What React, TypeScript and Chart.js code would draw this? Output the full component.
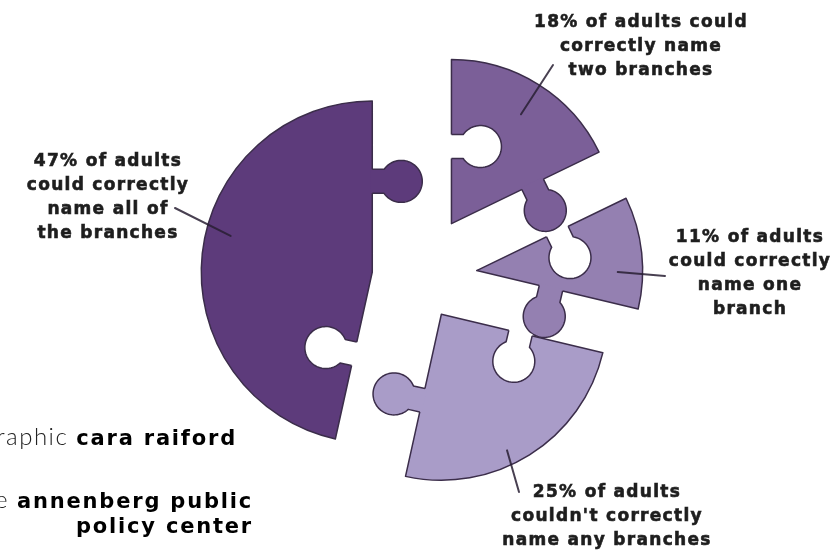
import { useEffect, useRef } from "react";
import { Chart, registerables } from "chart.js";

Chart.register(...registerables);

// ---- data ----
const categories = [
  "Could correctly name two branches",
  "Could correctly name one branch",
  "Couldn't correctly name any branches",
  "Could correctly name all of the branches",
];
const shares = [18, 11, 25, 47];
const labelLines = [
  ["18% of adults could", "correctly name", "two branches"],
  ["11% of adults", "could correctly", "name one", "branch"],
  ["25% of adults", "couldn't correctly", "name any branches"],
  ["47% of adults", "could correctly", "name all of", "the branches"],
];
const creditLight = ["graphic", "the", ""];
const creditBold = ["cara raiford", "annenberg public", "policy center"];

// ---- styles / layout ----
const colors = ["#7b5f98", "#9480b1", "#a99cc8", "#5d3b7b"];
const borderColor = "#3b2d4a";
const explode = [63, 59, 44, 46];
const radii = [164, 166, 166, 171];
const holeT = [0.47, 0.54, 0.49, 0.49];
const knobT = [0.55, 0.46, 0.53, 0.53];
const KR = 21;
const KD = 29;
const KW = 12;
const labelAnchor = [
  { x: 640, y: 23 },
  { x: 749, y: 238 },
  { x: 606, y: 493 },
  { x: 107, y: 162 },
];
const lineGap = 23.8;
const leaderStart = [
  { x: 553, y: 65 },
  { x: 665, y: 276 },
  { x: 519, y: 492 },
  { x: 175, y: 208 },
];
const leaderEnd = [
  [0.506, 0.79],
  [0.674, 0.85],
  [0.571, 0.91],
  [0.548, 0.855],
];
const creditRight = [237, 253, 253];
const creditBase = [445, 508, 533];

function tabPath(ctx: CanvasRenderingContext2D, arc: any, a: number, t: number, v0: number, closed: boolean) {
  const R = arc.outerRadius;
  const e = { x: Math.cos(a), y: Math.sin(a) };
  const n = { x: -Math.sin(a), y: Math.cos(a) };
  const u0 = t * R;
  const P = (u: number, v: number) => [arc.x + u * e.x + v * n.x, arc.y + u * e.y + v * n.y];
  const vN = KD - Math.sqrt(KR * KR - KW * KW);
  const phi0 = Math.atan2(vN - KD, -KW);
  const phi1 = Math.atan2(vN - KD, KW) - Math.PI * 2;
  ctx.beginPath();
  let p = P(u0 - KW, v0);
  ctx.moveTo(p[0], p[1]);
  p = P(u0 - KW, vN);
  ctx.lineTo(p[0], p[1]);
  const steps = 60;
  for (let k = 0; k <= steps; k++) {
    const f = phi0 + ((phi1 - phi0) * k) / steps;
    p = P(u0 + KR * Math.cos(f), KD + KR * Math.sin(f));
    ctx.lineTo(p[0], p[1]);
  }
  p = P(u0 + KW, vN);
  ctx.lineTo(p[0], p[1]);
  p = P(u0 + KW, v0);
  ctx.lineTo(p[0], p[1]);
  if (closed) ctx.closePath();
}

const puzzlePlugin = {
  id: "puzzle",
  afterDatasetsUpdate(chart: any) {
    const area = chart.chartArea;
    const cx = (area.left + area.right) / 2;
    const cy = (area.top + area.bottom) / 2;
    const meta = chart.getDatasetMeta(0);
    meta.data.forEach((arc: any, i: number) => {
      const mid = (arc.startAngle + arc.endAngle) / 2;
      arc.x = cx + explode[i] * Math.cos(mid);
      arc.y = cy + explode[i] * Math.sin(mid);
      arc.outerRadius = radii[i];
    });
  },
  afterDatasetsDraw(chart: any) {
    const ctx: CanvasRenderingContext2D = chart.ctx;
    const meta = chart.getDatasetMeta(0);
    ctx.save();
    ctx.lineJoin = "round";
    ctx.lineWidth = 1.5;
    ctx.strokeStyle = borderColor;
    meta.data.forEach((arc: any, i: number) => {
      tabPath(ctx, arc, arc.startAngle, holeT[i], -2, true);
      ctx.fillStyle = "#ffffff";
      ctx.fill();
      tabPath(ctx, arc, arc.startAngle, holeT[i], 0, false);
      ctx.stroke();
      tabPath(ctx, arc, arc.endAngle, knobT[i], -2, true);
      ctx.fillStyle = colors[i];
      ctx.fill();
      tabPath(ctx, arc, arc.endAngle, knobT[i], 0, false);
      ctx.stroke();
    });
    ctx.lineWidth = 2;
    ctx.lineCap = "round";
    meta.data.forEach((arc: any, i: number) => {
      const th = arc.startAngle + leaderEnd[i][0] * (arc.endAngle - arc.startAngle);
      const r = leaderEnd[i][1] * arc.outerRadius;
      ctx.strokeStyle = "rgba(40,30,50,0.85)";
      ctx.beginPath();
      ctx.moveTo(leaderStart[i].x, leaderStart[i].y);
      ctx.lineTo(arc.x + r * Math.cos(th), arc.y + r * Math.sin(th));
      ctx.stroke();
    });
    ctx.restore();
  },
  afterDraw(chart: any) {
    const ctx: any = chart.ctx;
    ctx.save();
    ctx.fillStyle = "#1e1e1e";
    ctx.strokeStyle = "#1e1e1e";
    ctx.lineWidth = 0.6;
    ctx.textAlign = "center";
    ctx.textBaseline = "middle";
    ctx.font = "bold 17px 'DejaVu Sans'";
    ctx.letterSpacing = "1.3px";
    labelLines.forEach((lines, i) => {
      lines.forEach((ln, j) => {
        const x = labelAnchor[i].x + 1;
        const y = labelAnchor[i].y + j * lineGap;
        ctx.fillText(ln, x, y);
        ctx.strokeText(ln, x, y);
      });
    });
    ctx.textBaseline = "alphabetic";
    ctx.textAlign = "right";
    creditBold.forEach((b, i) => {
      ctx.fillStyle = "#000000";
      ctx.font = "bold 21px 'DejaVu Sans'";
      ctx.letterSpacing = "1.8px";
      ctx.fillText(b, creditRight[i], creditBase[i]);
      const w = ctx.measureText(b).width;
      if (creditLight[i]) {
        ctx.font = "300 24px Lato";
        ctx.letterSpacing = "1.5px";
        ctx.fillStyle = "#222222";
        ctx.fillText(creditLight[i] + " ", creditRight[i] - w, creditBase[i]);
      }
    });
    ctx.restore();
  },
};

export default function App() {
  const ref = useRef<HTMLCanvasElement>(null);
  useEffect(() => {
    if (!ref.current) return;
    const chart = new Chart(ref.current, {
      type: "pie",
      data: {
        labels: categories,
        datasets: [
          {
            data: shares,
            backgroundColor: colors,
            borderColor: borderColor,
            borderWidth: 1.5,
            borderJoinStyle: "round",
            radius: 166,
          } as any,
        ],
      },
      options: {
        responsive: false,
        animation: false,
        events: [],
        devicePixelRatio: 1,
        layout: { padding: { left: 0, right: 1, top: 2, bottom: 0 } },
        plugins: {
          legend: { display: false },
          tooltip: { enabled: false },
        },
      },
      plugins: [puzzlePlugin],
    });
    return () => chart.destroy();
  }, []);
  return (
    <div style={{ position: "fixed", left: 0, top: 0, width: 837, height: 552, background: "#ffffff" }}>
      <canvas ref={ref} width={837} height={552} />
    </div>
  );
}
